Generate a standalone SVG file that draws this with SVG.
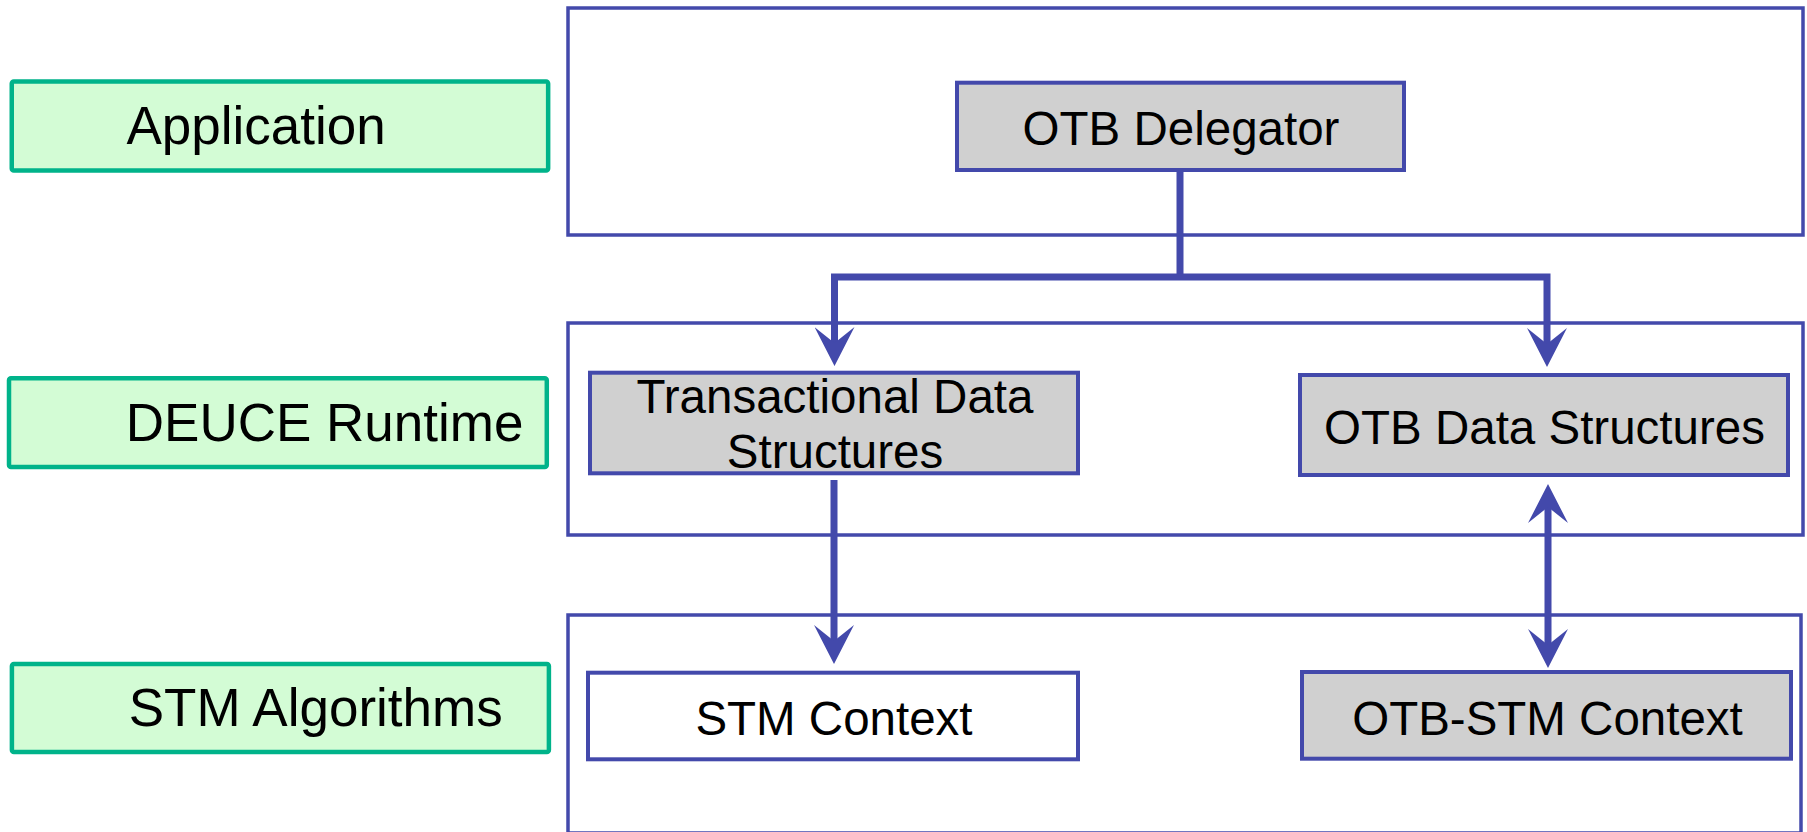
<svg xmlns="http://www.w3.org/2000/svg" width="1807" height="832" viewBox="0 0 1807 832">
<style>
.layer rect{fill:#D3FCD5;stroke:#00B38A;stroke-width:4.5}
.layer text{font-family:"Liberation Sans",Arial,sans-serif;font-size:53px;fill:#000}
.container{fill:#fff;stroke:#4349AB;stroke-width:3.5}
.box rect{fill:#D0D0D0;stroke:#4349AB;stroke-width:4}
.box text{font-family:"Liberation Sans",Arial,sans-serif;font-size:47.5px;fill:#000;text-anchor:middle}
.conn{fill:none;stroke:#4349AB;stroke-width:7;stroke-linejoin:miter;stroke-linecap:butt}
</style>
<defs>
<marker id="arrow" markerUnits="userSpaceOnUse" viewBox="0 0 40 40" refX="25" refY="20" markerWidth="40" markerHeight="40" orient="auto-start-reverse">
<path d="M40,20 L1,0 L17,20 L1,40 Z" fill="#4349AB"/>
</marker>
</defs>
<g id="layers">
<g id="layer-application" class="layer"><rect x="11.75" y="81.5" width="536.4" height="89" rx="2"/><text x="126.5" y="144">Application</text></g>
<g id="layer-deuce" class="layer"><rect x="9" y="378.3" width="537.8" height="88.8" rx="2"/><text x="125.8" y="441">DEUCE Runtime</text></g>
<g id="layer-stm" class="layer"><rect x="11.9" y="664" width="537" height="88" rx="2"/><text x="128.7" y="726">STM Algorithms</text></g>
</g>
<g id="containers">
<rect id="container-app" class="container" x="568" y="8" width="1235" height="227"/>
<rect id="container-deuce" class="container" x="568" y="323" width="1235" height="212"/>
<rect id="container-stm" class="container" x="568" y="615" width="1233" height="218"/>
</g>
<g id="otb-delegator" class="box"><rect x="957" y="82.7" width="447" height="87.3"/><text x="1181" y="145">OTB Delegator</text></g>
<g id="transactional-ds" class="box"><rect x="590" y="372.7" width="488" height="100.6"/><text x="835" y="412.7">Transactional Data</text><text x="835" y="468">Structures</text></g>
<g id="otb-ds" class="box"><rect x="1300" y="375" width="488" height="100"/><text x="1544.5" y="444">OTB Data Structures</text></g>
<g id="stm-context" class="box"><rect x="588" y="672.7" width="490" height="86.6" style="fill:#fff"/><text x="834" y="735">STM Context</text></g>
<g id="otb-stm-context" class="box"><rect x="1302" y="672" width="489" height="86.7"/><text x="1547.5" y="735">OTB-STM Context</text></g>
<g id="connectors">
<path class="conn" d="M1180,172 V277"/>
<path class="conn" d="M834.5,351 V277 H1547 V352" marker-start="url(#arrow)" marker-end="url(#arrow)"/>
<path class="conn" d="M834,480 V649" marker-end="url(#arrow)"/>
<path class="conn" d="M1548,499 V653" marker-start="url(#arrow)" marker-end="url(#arrow)"/>
</g>
</svg>
